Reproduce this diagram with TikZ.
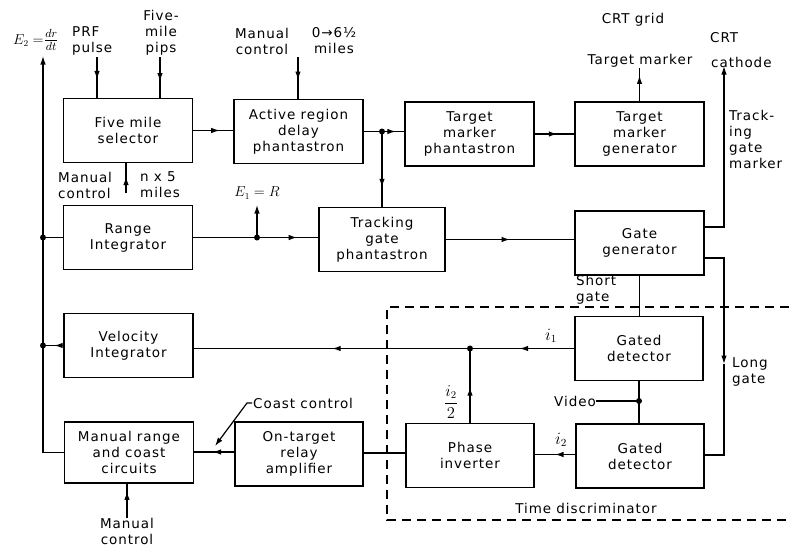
\documentclass[tikz,border=0pt]{standalone}
\usepackage{graphicx}
\usepackage{fontspec}
\setmainfont{DejaVu Sans}[LetterSpace=7]
\usetikzlibrary{arrows.meta,decorations.markings,calc}
\tikzset{
  blk/.style={draw,line width=1.2pt,minimum width=129pt,minimum height=64pt,inner sep=0pt,align=center,font=\fontsize{13.5}{16}\selectfont},
  lbl/.style={inner sep=0pt,align=center,font=\fontsize{13.5}{16}\selectfont},
  lbll/.style={lbl,align=left},
  wire/.style={line width=1.2pt},
  midarr/.style={postaction={decorate},decoration={markings,mark=at position #1 with {\arrow{Latex[length=8.5pt,width=5.5pt]}}}},
  twoarr/.style 2 args={postaction={decorate},decoration={markings,mark=at position #1 with {\arrow{Latex[length=8.5pt,width=5.5pt]}},mark=at position #2 with {\arrow{Latex[length=8.5pt,width=5.5pt]}}}},
  tip/.style={-{Latex[length=8.5pt,width=5.5pt]}},
  dot/.style={circle,fill,inner sep=0pt,minimum size=6pt}
}
\begin{document}
\begin{tikzpicture}[x=1pt,y=-1pt]
\useasboundingbox[fill=white] (0,0) rectangle (789,546);
% blocks
\node[blk] (fms) at (128,130.5) {Five mile\\selector};
\node[blk] (ard) at (298.5,131.5) {Active region\\delay\\phantastron};
\node[blk] (tmp) at (469.5,134) {Target\\marker\\phantastron};
\node[blk] (tmg) at (639.5,134) {Target\\marker\\generator};
\node[blk] (ri) at (128,237.5) {Range\\Integrator};
\node[blk,minimum width=126pt] (tgp) at (382,239.5) {Tracking\\gate\\phantastron};
\node[blk] (gg) at (639.5,243) {Gate\\generator};
\node[blk] (vi) at (128.5,345.5) {Velocity\\Integrator};
\node[blk,minimum height=61pt] (mrc) at (129,452.5) {Manual range\\and coast\\circuits};
\node[blk,minimum width=128pt] (ota) at (299,454) {On-target\\relay\\amplifier};
\node[blk,minimum width=128pt] (pi) at (470,455.5) {Phase\\inverter};
\node[blk,minimum width=128pt] (gd1) at (639,348.5) {Gated\\detector};
\node[blk,minimum width=128pt] (gd2) at (640,456) {Gated\\detector};
% labels
\node[lbl] (e2) at (36,40) {$E_2=$\scalebox{1.3}{$\frac{dr}{dt}$}};
\node[lbll,anchor=west] (prf) at (72,41) {PRF\\pulse};
\node[lbl] (pips) at (161,33) {Five-\\mile\\pips};
\node[lbl] (mc1) at (262,41) {Manual\\control};
\node[lbl] (mi1) at (334,41) {0→6½\\miles};
\node[lbll,anchor=west] (mc2) at (58,185) {Manual\\control};
\node[lbll,anchor=west] (nx5) at (140,185) {n x 5\\miles};
\node[lbl] (e1) at (257,193) {$E_1=R$};
\node[lbl] (crtg) at (633,20) {CRT grid};
\node[lbl] (tm) at (640,61) {Target marker};
\node[lbl,anchor=west] (crt) at (710,38) {CRT};
\node[lbl,anchor=west] (cath) at (711,62) {cathode};
\node[lbll,anchor=north west] (tgm) at (729,110) {Track-\\ing\\gate\\marker};
\node[lbll,anchor=west] (sg) at (576,290) {Short\\gate};
\node[lbll,anchor=west] (lgt) at (732,372) {Long\\gate};
\node[lbl] (td) at (586,508) {Time discriminator};
\node[lbl] (i1) at (551,336) {\scalebox{1.2}{$i_1$}};
\node[lbl] (i22) at (451,402) {\scalebox{1.15}{$\displaystyle\frac{i_2}{2}$}};
\node[lbl] (i2) at (561,440) {\scalebox{1.2}{$i_2$}};
\node[lbl,anchor=east] (vid) at (596,401) {Video};
\node[lbl,anchor=west] (cc) at (253,403) {Coast control};
\node[lbl] (mc3) at (127,531) {Manual\\control};
% left bus
\coordinate (ltop) at (43,56);
\draw[wire,tip] (mrc.west) -- (mrc.west -| ltop) -- (ltop);
\node[dot] (d1) at (ri.west -| ltop) {};
\draw[wire] (ri.west) -- (d1.center);
\node[dot] (d2) at (vi.west -| ltop) {};
\draw[wire,midarr=0.45] (vi.west) -- (d2.center);
% top inputs
\coordinate (prfc) at (97,57);
\draw[wire,midarr=0.55] (prfc) -- (prfc |- fms.north);
\coordinate (pipc) at (160,57);
\draw[wire,midarr=0.6] (pipc) -- (pipc |- fms.north);
\coordinate (mcc) at (298,57);
\draw[wire,midarr=0.55] (mcc) -- (mcc |- ard.north);
\coordinate (nx) at (126,193);
\draw[wire,midarr=0.55] (nx) -- (nx |- fms.south);
% main chain
\draw[wire,midarr=0.66] (fms.east) -- (fms.east -| ard.west);
\node[dot] (d3) at (382,131.5) {};
\draw[wire,midarr=0.79] (ard.east) -- (ard.east -| tmp.west);
\draw[wire,midarr=0.74] (d3.center) -- (d3 |- tgp.north);
\draw[wire,midarr=0.57] (tmp.east) -- (tmp.east -| tmg.west);
\draw[wire,midarr=0.77] (tmg.north) -- (tmg.north |- tm.south);
\node[dot] (d7) at (ri.east -| e1) {};
\draw[wire,midarr=0.83] (ri.east) -- (ri.east -| tgp.west);
\coordinate (e1t) at (257,205);
\draw[wire,tip] (d7.center) -- (e1t);
\draw[wire,midarr=0.5] (tgp.east) -- (tgp.east -| gg.west);
% gate generator outputs
\coordinate (ct) at (724,66);
\draw[wire,tip] ([yshift=16pt]gg.east) -| (ct);
\coordinate (lgx) at (724,364);
\draw[wire,tip] ([yshift=-15pt]gg.east) -| (lgx);
\draw[wire] (lgx) |- ([yshift=1pt]gd2.east);
\draw[wire] (gg.south) -- (gg.south |- gd1.north);
% detectors
\node[dot] (d5) at (gd1.south |- vid) {};
\draw[wire] (gd1.south) -- (gd2.north -| gd1.south);
\draw[wire] (vid.east) -- (d5.center);
\node[dot] (d6) at (gd1.west -| pi.north) {};
\draw[wire,twoarr={0.144}{0.636}] (gd1.west) -- (gd1.west -| vi.east);
\draw[wire,midarr=0.48] (pi.north) -- (d6.center);
\draw[wire,midarr=0.5] ([yshift=1.5pt]gd2.west) -- ([yshift=1.5pt]gd2.west -| pi.east);
\draw[wire] ([yshift=2.5pt]pi.west) -- ([yshift=2.5pt]pi.west -| ota.east);
\draw[wire,midarr=0.54] ([yshift=2pt]ota.west) -- ([yshift=2pt]ota.west -| mrc.east);
\coordinate (cct) at (215,446);
\draw[wire,tip] ([xshift=-1pt]cc.west) -- ++(-5,0) -- (cct);
\draw[wire,midarr=0.77] (mc3.north) -- (mc3.north |- mrc.south);
% time discriminator
\draw[line width=1.1pt,dash pattern=on 9pt off 6pt] (789,307) -- (387,307) -- (387,520) -- (789,520);
\end{tikzpicture}
\end{document}
